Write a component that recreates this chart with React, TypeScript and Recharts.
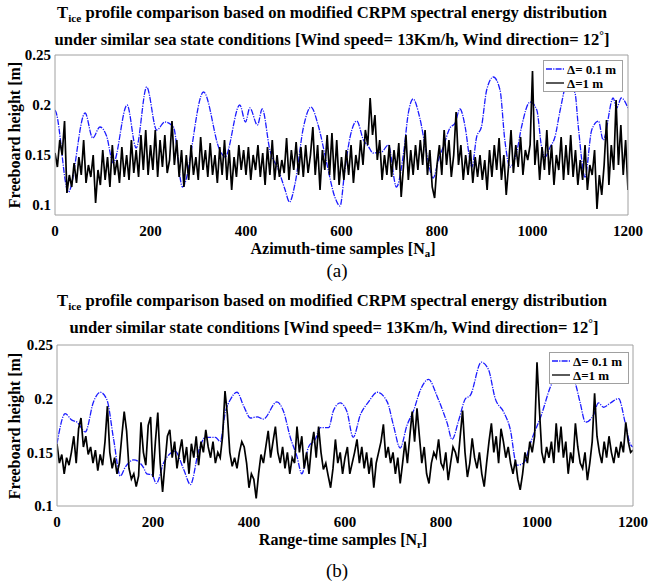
import { Line, LineChart, XAxis, YAxis } from "recharts";

const SERIF = '"Liberation Serif", "Times New Roman", Times, serif';
const FRAME = "#a0a0a0";
const BLUE = "#1c1cff";
const BLACK = "#000000";
const BLUE_DASH = "6 1.2 1.2 1.2";

const X_TICKS = [0, 200, 400, 600, 800, 1000, 1200];
const Y_TICKS = [0.1, 0.15, 0.2, 0.25];
const BLACK_STEP = 5; // black profiles are read every 5 samples

// (a) azimuth-time, Δ = 0.1 m profile (sample index / freeboard)
const BLUE_A_S = [
  0, 2, 28, 63, 79, 94, 108, 122, 151, 170, 192, 213, 230, 248, 267, 311, 345,
  356, 387, 399, 408, 424, 434, 450, 468, 482, 491, 503, 520, 536, 551, 569,
  586, 597, 607, 618, 632, 646, 657, 666, 684, 698, 715, 730, 740, 750, 764,
  778, 792, 803, 813, 827, 838, 848, 859, 869, 873, 883, 893, 904, 918, 932,
  942, 953, 967, 977, 995, 1009, 1019, 1026, 1037, 1047, 1058, 1073, 1089,
  1096, 1110, 1124, 1138, 1148, 1169, 1176, 1186, 1200,
];
const BLUE_A_V = [
  0.195, 0.193, 0.113, 0.192, 0.167, 0.178, 0.169, 0.142, 0.2, 0.157, 0.218,
  0.175, 0.183, 0.178, 0.118, 0.213, 0.155, 0.148, 0.2, 0.183, 0.197, 0.18,
  0.196, 0.155, 0.135, 0.115, 0.103, 0.122, 0.177, 0.198, 0.18, 0.142, 0.108,
  0.099, 0.135, 0.168, 0.184, 0.165, 0.158, 0.152, 0.153, 0.16, 0.118, 0.152,
  0.192, 0.206, 0.187, 0.152, 0.127, 0.145, 0.158, 0.177, 0.182, 0.196, 0.178,
  0.145, 0.138, 0.168, 0.178, 0.215, 0.228, 0.215, 0.165, 0.138, 0.153, 0.178,
  0.203, 0.195, 0.158, 0.148, 0.158, 0.168, 0.195, 0.222, 0.212, 0.178, 0.128,
  0.175, 0.184, 0.165, 0.207, 0.197, 0.207, 0.197,
];
// (a) azimuth-time, Δ = 1 m profile, samples 0..1200
const BLACK_A = [
  0.152, 0.138, 0.165, 0.15, 0.184, 0.112, 0.13, 0.118, 0.142, 0.122,
  0.148, 0.13, 0.165, 0.122, 0.14, 0.128, 0.15, 0.102, 0.135, 0.12,
  0.155, 0.125, 0.148, 0.118, 0.16, 0.13, 0.145, 0.122, 0.158, 0.128,
  0.15, 0.125, 0.165, 0.132, 0.155, 0.128, 0.17, 0.135, 0.175, 0.13,
  0.16, 0.135, 0.175, 0.128, 0.165, 0.138, 0.17, 0.132, 0.145, 0.184,
  0.14, 0.165, 0.128, 0.155, 0.118, 0.15, 0.125, 0.16, 0.13, 0.148,
  0.125, 0.168, 0.135, 0.155, 0.128, 0.162, 0.13, 0.15, 0.122, 0.158,
  0.13, 0.165, 0.125, 0.155, 0.115, 0.148, 0.128, 0.16, 0.135, 0.155,
  0.13, 0.158, 0.125, 0.15, 0.135, 0.16, 0.128, 0.152, 0.12, 0.158,
  0.13, 0.165, 0.125, 0.15, 0.128, 0.145, 0.132, 0.167, 0.125, 0.155,
  0.135, 0.163, 0.13, 0.158, 0.128, 0.16, 0.132, 0.15, 0.178, 0.13,
  0.16, 0.115, 0.155, 0.135, 0.17, 0.13, 0.172, 0.125, 0.165, 0.12,
  0.148, 0.125, 0.155, 0.13, 0.16, 0.122, 0.15, 0.135, 0.165, 0.14,
  0.175, 0.16, 0.207, 0.17, 0.19, 0.145, 0.165, 0.125, 0.15, 0.13,
  0.16, 0.128, 0.155, 0.135, 0.162, 0.108, 0.14, 0.17, 0.125, 0.155,
  0.13, 0.16, 0.135, 0.165, 0.14, 0.175, 0.13, 0.155, 0.118, 0.107,
  0.14, 0.16, 0.13, 0.175, 0.14, 0.165, 0.128, 0.15, 0.193, 0.14,
  0.16, 0.125, 0.15, 0.13, 0.155, 0.122, 0.148, 0.128, 0.15, 0.125,
  0.145, 0.115, 0.155, 0.128, 0.16, 0.135, 0.167, 0.125, 0.15, 0.11,
  0.14, 0.175, 0.132, 0.16, 0.138, 0.168, 0.13, 0.155, 0.145, 0.16,
  0.234, 0.14, 0.165, 0.125, 0.158, 0.135, 0.175, 0.13, 0.16, 0.12,
  0.15, 0.135, 0.168, 0.125, 0.16, 0.13, 0.17, 0.128, 0.155, 0.12,
  0.145, 0.125, 0.16, 0.115, 0.14, 0.13, 0.155, 0.096, 0.13, 0.11,
  0.14, 0.185, 0.12, 0.16, 0.135, 0.205, 0.14, 0.18, 0.13, 0.165,
  0.115,
];

// (b) range-time, Δ = 0.1 m profile
const BLUE_B_S = [
  0, 17, 31, 42, 59, 76, 90, 104, 118, 132, 142, 160, 180, 187, 198, 207, 222,
  236, 246, 264, 278, 295, 309, 330, 340, 351, 361, 375, 389, 403, 417, 430,
  458, 472, 486, 500, 510, 524, 538, 549, 566, 576, 590, 604, 617, 632, 649,
  667, 688, 701, 715, 729, 743, 757, 774, 792, 806, 813, 823, 837, 851, 861,
  884, 899, 913, 930, 944, 958, 972, 989, 1010, 1028, 1050, 1068, 1080, 1090,
  1101, 1118, 1128, 1139, 1153, 1170, 1184, 1194, 1200,
];
const BLUE_B_V = [
  0.158, 0.186, 0.18, 0.178, 0.169, 0.197, 0.206, 0.199, 0.162, 0.128, 0.136,
  0.143, 0.136, 0.13, 0.129, 0.121, 0.14, 0.149, 0.151, 0.134, 0.12, 0.151,
  0.164, 0.164, 0.16, 0.188, 0.199, 0.206, 0.193, 0.182, 0.183, 0.181, 0.197,
  0.188, 0.164, 0.146, 0.13, 0.155, 0.162, 0.173, 0.173, 0.189, 0.196, 0.188,
  0.164, 0.185, 0.197, 0.206, 0.197, 0.175, 0.154, 0.175, 0.189, 0.208, 0.218,
  0.202, 0.186, 0.177, 0.162, 0.18, 0.2, 0.203, 0.234, 0.227, 0.2, 0.188,
  0.172, 0.138, 0.14, 0.162, 0.186, 0.211, 0.226, 0.222, 0.214, 0.196, 0.178,
  0.185, 0.196, 0.192, 0.196, 0.2, 0.177, 0.158, 0.155,
];
// (b) range-time, Δ = 1 m profile, samples 0..1200
const BLACK_B = [
  0.158, 0.14, 0.148, 0.13, 0.145, 0.138, 0.15, 0.165, 0.14, 0.172,
  0.182, 0.155, 0.165, 0.148, 0.155, 0.14, 0.152, 0.133, 0.148, 0.138,
  0.16, 0.193, 0.15, 0.135, 0.145, 0.13, 0.14, 0.165, 0.188, 0.17,
  0.135, 0.125, 0.13, 0.118, 0.128, 0.178, 0.15, 0.138, 0.175, 0.183,
  0.127, 0.16, 0.187, 0.14, 0.113, 0.14, 0.165, 0.171, 0.145, 0.16,
  0.135, 0.15, 0.162, 0.14, 0.155, 0.13, 0.158, 0.145, 0.165, 0.138,
  0.16, 0.15, 0.171, 0.155, 0.145, 0.16, 0.14, 0.15, 0.145, 0.165,
  0.207, 0.185, 0.15, 0.137, 0.145, 0.135, 0.15, 0.16, 0.155, 0.14,
  0.117, 0.13, 0.125, 0.107, 0.13, 0.148, 0.14, 0.155, 0.17, 0.145,
  0.16, 0.174, 0.15, 0.14, 0.155, 0.135, 0.15, 0.13, 0.145, 0.14,
  0.174, 0.15, 0.165, 0.135, 0.15, 0.13, 0.155, 0.169, 0.145, 0.174,
  0.15, 0.134, 0.14, 0.128, 0.117, 0.135, 0.162, 0.14, 0.15, 0.13,
  0.145, 0.155, 0.13, 0.14, 0.15, 0.162, 0.14, 0.155, 0.135, 0.15,
  0.13, 0.145, 0.117, 0.14, 0.15, 0.16, 0.176, 0.145, 0.155, 0.14,
  0.15, 0.13, 0.145, 0.121, 0.14, 0.16, 0.14, 0.165, 0.188, 0.16,
  0.191, 0.165, 0.14, 0.155, 0.13, 0.121, 0.14, 0.15, 0.145, 0.162,
  0.14, 0.135, 0.15, 0.124, 0.14, 0.155, 0.15, 0.14, 0.165, 0.189,
  0.15, 0.127, 0.14, 0.163, 0.145, 0.135, 0.15, 0.13, 0.118, 0.14,
  0.16, 0.177, 0.15, 0.165, 0.14, 0.172, 0.16, 0.145, 0.155, 0.14,
  0.13, 0.143, 0.125, 0.115, 0.13, 0.15, 0.14, 0.16, 0.15, 0.165,
  0.234, 0.19, 0.15, 0.14, 0.155, 0.145, 0.16, 0.14, 0.177, 0.15,
  0.174, 0.145, 0.16, 0.13, 0.15, 0.14, 0.177, 0.155, 0.14, 0.135,
  0.15, 0.124, 0.14, 0.16, 0.205, 0.165, 0.15, 0.14, 0.16, 0.145,
  0.165, 0.15, 0.14, 0.155, 0.145, 0.16, 0.15, 0.178, 0.16, 0.15,
  0.152,
];

const pairs = (xs: number[], vs: number[]) => xs.map((s, i) => ({ s, v: vs[i] }));
const stepped = (vs: number[]) => vs.map((v, i) => ({ s: i * BLACK_STEP, v }));

const tickFont = { fill: "#000", fontSize: 15, fontWeight: "bold", fontFamily: SERIF };

type PanelProps = {
  top: number;
  plotRight: number;
  yAxisWidth: number;
  plotHeight: number;
  yDomain: [number, number];
  blue: { s: number; v: number }[];
  black: { s: number; v: number }[];
};

function Panel({ top, plotRight, yAxisWidth, plotHeight, yDomain, blue, black }: PanelProps) {
  return (
    <div style={{ position: "absolute", left: 0, top }}>
      <LineChart
        width={649}
        height={55 + plotHeight + 25}
        margin={{ top: 55, right: 649 - plotRight, bottom: 0, left: 0 }}
      >
        <XAxis
          dataKey="s"
          type="number"
          domain={[0, 1200]}
          ticks={X_TICKS}
          allowDataOverflow
          height={25}
          tickLine={false}
          tickSize={6}
          tickMargin={4}
          axisLine={{ stroke: FRAME }}
          tick={tickFont}
        />
        <XAxis
          xAxisId="inner"
          type="number"
          domain={[0, 1200]}
          ticks={X_TICKS}
          allowDataOverflow
          mirror
          tick={false}
          tickSize={4}
          axisLine={false}
          tickLine={{ stroke: FRAME }}
        />
        <XAxis
          xAxisId="top"
          orientation="top"
          type="number"
          domain={[0, 1200]}
          ticks={X_TICKS}
          allowDataOverflow
          mirror
          tick={false}
          tickSize={4}
          axisLine={{ stroke: FRAME }}
          tickLine={{ stroke: FRAME }}
        />
        <YAxis
          type="number"
          domain={yDomain}
          ticks={Y_TICKS}
          allowDataOverflow
          width={yAxisWidth}
          tickLine={false}
          tickSize={2}
          tickMargin={2}
          axisLine={{ stroke: FRAME }}
          tick={tickFont}
        />
        <YAxis
          yAxisId="inner"
          type="number"
          domain={yDomain}
          ticks={Y_TICKS}
          allowDataOverflow
          mirror
          tick={false}
          tickSize={4}
          axisLine={false}
          tickLine={{ stroke: FRAME }}
        />
        <YAxis
          yAxisId="right"
          orientation="right"
          type="number"
          domain={yDomain}
          ticks={Y_TICKS}
          allowDataOverflow
          mirror
          tick={false}
          tickSize={4}
          axisLine={{ stroke: FRAME }}
          tickLine={{ stroke: FRAME }}
        />
        <Line
          data={blue}
          dataKey="v"
          type="monotone"
          stroke={BLUE}
          strokeWidth={1.3}
          strokeDasharray={BLUE_DASH}
          dot={false}
          isAnimationActive={false}
        />
        <Line
          data={black}
          dataKey="v"
          type="linear"
          stroke={BLACK}
          strokeWidth={1.7}
          dot={false}
          isAnimationActive={false}
        />
      </LineChart>
    </div>
  );
}

function Text({
  x,
  y,
  size,
  bold = true,
  rotate = false,
  children,
}: {
  x: number;
  y: number;
  size: number;
  bold?: boolean;
  rotate?: boolean;
  children: React.ReactNode;
}) {
  return (
    <div
      style={{
        position: "absolute",
        left: x,
        top: y,
        transform: `translate(-50%, -50%)${rotate ? " rotate(-90deg)" : ""}`,
        whiteSpace: "nowrap",
        fontFamily: SERIF,
        fontSize: size,
        fontWeight: bold ? "bold" : "normal",
        lineHeight: 1,
        color: "#000",
      }}
    >
      {children}
    </div>
  );
}

function LegendBox({ left, top }: { left: number; top: number }) {
  const row = (label: string, color: string, dash?: string) => (
    <div style={{ display: "flex", alignItems: "center", height: 14, whiteSpace: "nowrap" }}>
      <svg width={20} height={6} style={{ marginRight: 2, flex: "none" }}>
        <line x1={1} y1={3} x2={19} y2={3} stroke={color} strokeWidth={1.3} strokeDasharray={dash} />
      </svg>
      <span>{label}</span>
    </div>
  );
  return (
    <div
      style={{
        position: "absolute",
        left,
        top,
        width: 80,
        height: 32,
        boxSizing: "border-box",
        border: `1px solid ${FRAME}`,
        background: "#fff",
        padding: "1px 0 0 1px",
        fontFamily: SERIF,
        fontWeight: "bold",
        fontSize: 13,
        lineHeight: 1,
      }}
    >
      {row("Δ= 0.1 m", BLUE, BLUE_DASH)}
      {row("Δ=1 m", BLACK)}
    </div>
  );
}

const sub = { fontSize: "0.68em", verticalAlign: "-0.35em" };
const sup = { fontSize: "0.7em", verticalAlign: "0.5em" };

export default function App() {
  return (
    <div style={{ position: "absolute", left: 0, top: 0, width: 649, height: 584, background: "#fff" }}>
      <Panel
        top={0}
        plotRight={628}
        yAxisWidth={55}
        plotHeight={160}
        yDomain={[0.09, 0.25]}
        blue={pairs(BLUE_A_S, BLUE_A_V)}
        black={stepped(BLACK_A)}
      />
      <Panel
        top={290}
        plotRight={633}
        yAxisWidth={57}
        plotHeight={161}
        yDomain={[0.1, 0.25]}
        blue={pairs(BLUE_B_S, BLUE_B_V)}
        black={stepped(BLACK_B)}
      />

      <Text x={332} y={15} size={16.6}>
        T<span style={sub}>ice</span> profile comparison based on modified CRPM spectral energy distribution
      </Text>
      <Text x={332} y={39} size={16.6}>
        under similar sea state conditions [Wind speed= 13Km/h, Wind direction= 12<span style={sup}>°</span>]
      </Text>
      <Text x={15} y={135} size={16} rotate>
        Freeboard height [m]
      </Text>
      <Text x={343} y={250} size={16}>
        Azimuth-time samples [N<span style={sub}>a</span>]
      </Text>
      <Text x={337} y={270} size={19} bold={false}>
        (a)
      </Text>
      <LegendBox left={543} top={60} />

      <Text x={332} y={303} size={16.6}>
        T<span style={sub}>ice</span> profile comparison based on modified CRPM spectral energy distribution
      </Text>
      <Text x={334} y={327} size={16.6}>
        under similar state conditions [Wind speed= 13Km/h, Wind direction= 12<span style={sup}>°</span>]
      </Text>
      <Text x={15} y={426} size={16} rotate>
        Freeboard height [m]
      </Text>
      <Text x={343} y={541} size={16}>
        Range-time samples [N<span style={sub}>r</span>]
      </Text>
      <Text x={337} y={570} size={19} bold={false}>
        (b)
      </Text>
      <LegendBox left={549} top={352} />
    </div>
  );
}
